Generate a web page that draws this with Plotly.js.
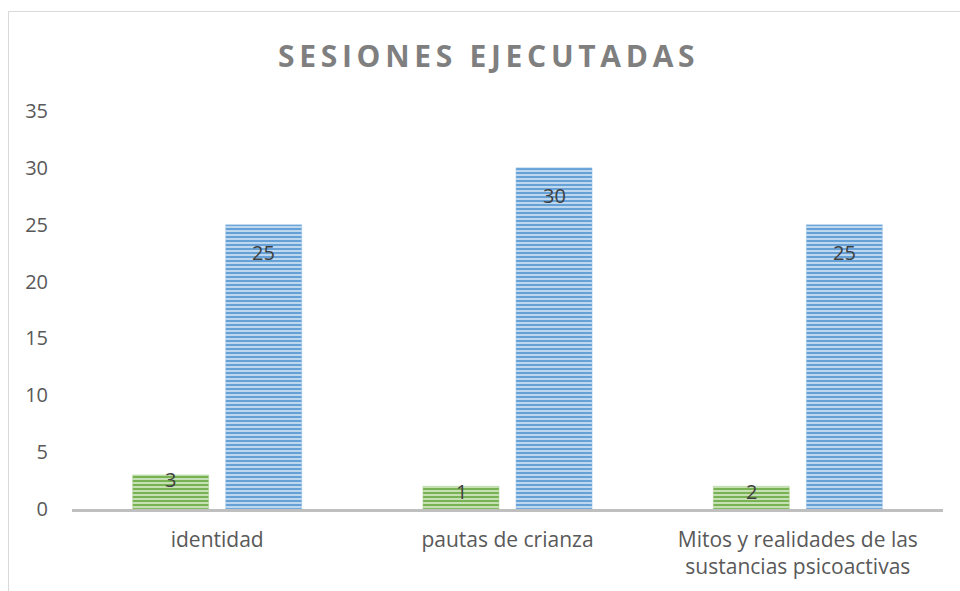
<!DOCTYPE html>
<html>
<head>
<meta charset="utf-8">
<script src="https://cdn.plot.ly/plotly-3.0.1.min.js"></script>
<style>
  html, body { margin: 0; padding: 0; background: #ffffff; overflow: hidden; }
  #frame { position: absolute; left: 8px; top: 11px; width: 1100px; height: 800px;
           border: 1px solid #d9d9d9; pointer-events: none; }
  #chart { position: absolute; left: 0; top: 0; width: 960px; height: 591px; }
  #chart .gtitle { letter-spacing: 4.7px; }
</style>
</head>
<body>
<div id="frame"></div>
<div id="chart"></div>
<script>
// ---- data ----
const categories = ["identidad", "pautas de crianza", "Mitos y realidades de las<br>sustancias psicoactivas"];
const greenValues = [3, 2, 2];
const greenLabels = ["3", "1", "2"];
const blueValues = [25, 30, 25];
const blueLabels = ["25", "30", "25"];
const yTicks = [0, 5, 10, 15, 20, 25, 30, 35];
const chartTitle = "SESIONES EJECUTADAS";

const labelFont = { family: "Open Sans, sans-serif", size: 20, color: "#404040" };

const traces = [
  {
    type: "bar", x: categories, y: greenValues, name: "Serie 1",
    marker: {
      color: "#70AD47",
      line: { color: "#A9D18E", width: 0.5 },
      pattern: { shape: "-", fgcolor: "#70AD47", bgcolor: "#C5E0B4", size: 4, solidity: 0.45 }
    },
    hoverinfo: "none"
  },
  {
    type: "bar", x: categories, y: blueValues, name: "Serie 2",
    marker: {
      color: "#5B9BD5",
      line: { color: "#9DC3E6", width: 0.5 },
      pattern: { shape: "-", fgcolor: "#5B9BD5", bgcolor: "#BDD7EE", size: 4, solidity: 0.45 }
    },
    hoverinfo: "none"
  }
];

const annotations = [];
categories.forEach((c, i) => {
  annotations.push({ x: c, y: greenValues[i], text: greenLabels[i], xref: "x", yref: "y",
    showarrow: false, xshift: -46.5, yshift: -5, yanchor: "middle", font: labelFont });
  annotations.push({ x: c, y: blueValues[i], text: blueLabels[i], xref: "x", yref: "y",
    showarrow: false, xshift: 46.5, yshift: -28, yanchor: "middle", font: labelFont });
});

const layout = {
  width: 960, height: 591,
  paper_bgcolor: "rgba(0,0,0,0)", plot_bgcolor: "rgba(0,0,0,0)",
  margin: { l: 72, r: 17, t: 111, b: 82 },
  showlegend: false,
  barmode: "group", bargap: 0.359, bargroupgap: 0.183,
  title: {
    text: "<b>" + chartTitle + "</b>",
    font: { family: "Open Sans, sans-serif", size: 30, color: "#7F7F7F" },
    xref: "container", x: 0.509, xanchor: "center",
    yref: "container", y: 0.905, yanchor: "middle"
  },
  xaxis: {
    type: "category",
    showline: true, linecolor: "#BFBFBF", linewidth: 2.5,
    showgrid: false, zeroline: false,
    ticks: "outside", ticklen: 10, tickcolor: "rgba(0,0,0,0)",
    tickfont: { family: "Open Sans, sans-serif", size: 21, color: "#595959" }
  },
  yaxis: {
    range: [0, 35], tickvals: yTicks, ticktext: yTicks.map(String),
    showline: false, showgrid: false, zeroline: false,
    ticks: "outside", ticklen: 19, tickcolor: "rgba(0,0,0,0)",
    tickfont: { family: "Open Sans, sans-serif", size: 20, color: "#595959" }
  },
  annotations: annotations
};

Plotly.newPlot("chart", traces, layout, { staticPlot: true, displayModeBar: false });
</script>
</body>
</html>
